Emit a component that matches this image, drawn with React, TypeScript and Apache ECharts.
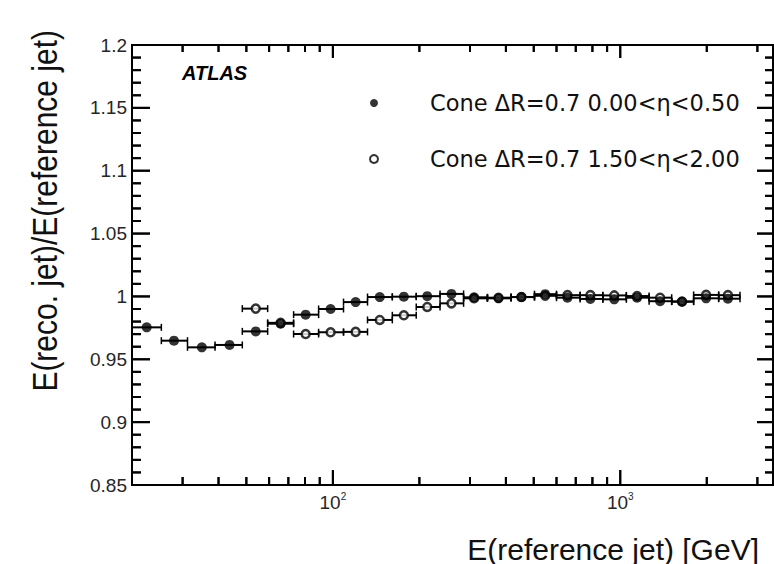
import React, { useEffect, useRef } from "react";
import * as echarts from "echarts";

// ---- data ----
const binCenters = [22.5, 28.0, 35.0, 43.7, 53.9, 65.8, 80.4, 98.2, 120, 145.6, 176.6, 213, 258.6, 310, 377, 453, 548, 655, 787, 953, 1144, 1376, 1640, 1989, 2369];
const binLow = [20, 25.3, 31.2, 38.9, 48.4, 59.3, 73, 89.2, 108.9, 132, 161, 195, 236, 285, 345, 417, 503, 600, 725, 870, 1050, 1260, 1510, 1800, 2200];
const binHigh = [25.3, 31.2, 38.9, 48.4, 59.3, 73, 89.2, 108.9, 132, 161, 195, 236, 285, 345, 417, 503, 600, 725, 870, 1050, 1260, 1510, 1800, 2200, 2610];

const centralValues = [0.9754, 0.9648, 0.9595, 0.9614, 0.9722, 0.9783, 0.9855, 0.99, 0.9955, 0.9995, 0.9998, 1.0002, 1.002, 0.9993, 0.9985, 0.9995, 1.0018, 0.999, 0.998, 0.9977, 0.999, 0.9962, 0.9958, 0.9985, 0.9982];
const forwardValues = [null, null, null, null, 0.9903, 0.979, 0.9701, 0.9715, 0.9718, 0.9813, 0.985, 0.9916, 0.9945, 0.9985, 0.999, 0.9995, 1.0005, 1.001, 1.001, 1.0008, 1.0003, 0.999, 0.996, 1.0012, 1.001];

const centralName = "Cone \u0394R=0.7 0.00<\u03b7<0.50";
const forwardName = "Cone \u0394R=0.7 1.50<\u03b7<2.00";

const xMin = 20;
const xMax = 3400;
const yMin = 0.85;
const yMax = 1.2;
const yInterval = 0.05;

// tick positions
const xMajorTicks = [100, 1000];
const xMinorTicks = [30, 40, 50, 60, 70, 80, 90, 200, 300, 400, 500, 600, 700, 800, 900, 2000, 3000];
const yMajorTicks = [0.85, 0.9, 0.95, 1.0, 1.05, 1.1, 1.15, 1.2];
const yMinorTicks = [
  0.86, 0.87, 0.88, 0.89, 0.91, 0.92, 0.93, 0.94, 0.96, 0.97, 0.98, 0.99,
  1.01, 1.02, 1.03, 1.04, 1.06, 1.07, 1.08, 1.09, 1.11, 1.12, 1.13, 1.14,
  1.16, 1.17, 1.18, 1.19,
];

const xTitle = "E(reference jet) [GeV]";
const yTitle = "E(reco. jet)/E(reference jet)";
const atlasLabel = "ATLAS";

function buildPoints(vals: (number | null)[]) {
  const pts: number[][] = [];
  vals.forEach((v, i) => {
    if (v != null) pts.push([binCenters[i], v]);
  });
  return pts;
}
function buildBars(vals: (number | null)[]) {
  const bars: number[][] = [];
  vals.forEach((v, i) => {
    if (v != null) bars.push([binLow[i], binHigh[i], v]);
  });
  return bars;
}

const errorBarRender = (params: any, api: any) => {
  const lo = api.value(0);
  const hi = api.value(1);
  const v = api.value(2);
  const p1 = api.coord([lo, v]);
  const p2 = api.coord([hi, v]);
  return {
    type: "group",
    children: [
      { type: "line", shape: { x1: p1[0], y1: p1[1], x2: p2[0], y2: p2[1] }, style: { stroke: "#000", lineWidth: 2 } },
      { type: "line", shape: { x1: p1[0], y1: p1[1] - 3.5, x2: p1[0], y2: p1[1] + 3.5 }, style: { stroke: "#000", lineWidth: 1.5 } },
      { type: "line", shape: { x1: p2[0], y1: p2[1] - 3.5, x2: p2[0], y2: p2[1] + 3.5 }, style: { stroke: "#000", lineWidth: 1.5 } },
    ],
  };
};

// per-side tick renderers; data item = [x, y, length]
const makeTickRender = (ux: number, uy: number) => (params: any, api: any) => {
  const p = api.coord([api.value(0), api.value(1)]);
  const len = api.value(2);
  return {
    type: "group",
    children: [
      { type: "line", shape: { x1: p[0], y1: p[1], x2: p[0] + ux * len, y2: p[1] + uy * len }, style: { stroke: "#000", lineWidth: 2 } },
    ],
  };
};

const tickSeries = (ux: number, uy: number, data: number[][]) => ({
  type: "custom",
  renderItem: makeTickRender(ux, uy),
  encode: { x: 0, y: 1 },
  data,
});

const labelFont = "Liberation Sans";

const textGraphics = [
  {
    type: "text",
    x: 45,
    y: 30,
    rotation: Math.PI / 2,
    scaleY: 1.15,
    style: {
      text: yTitle,
      fontFamily: labelFont,
      fontSize: 30,
      fill: "#111",
      align: "right",
      verticalAlign: "middle",
    },
  },
  {
    type: "text",
    x: 759,
    y: 549,
    style: {
      text: xTitle,
      fontFamily: labelFont,
      fontSize: 30,
      fill: "#111",
      align: "right",
      verticalAlign: "middle",
    },
  },
  {
    type: "text",
    x: 182,
    y: 72.5,
    style: {
      text: atlasLabel,
      fontFamily: labelFont,
      fontSize: 20,
      fontWeight: "bold",
      fontStyle: "italic",
      fill: "#000",
      align: "left",
      verticalAlign: "middle",
    },
  },
];

export default function App() {
  const ref = useRef<HTMLDivElement>(null);
  useEffect(() => {
    if (!ref.current) return;
    const chart = echarts.init(ref.current, null, { renderer: "svg" });
    const option: any = {
      animation: false,
      backgroundColor: "#fff",
      grid: {
        left: 132,
        top: 45,
        right: 1,
        bottom: 79,
        show: true,
        borderColor: "#000",
        borderWidth: 2,
        backgroundColor: "transparent",
      },
      legend: {
        data: [
          { name: centralName, icon: "circle" },
          { name: forwardName, icon: "circle" },
        ],
        orient: "vertical",
        left: 364,
        top: 86,
        itemWidth: 8,
        itemHeight: 8,
        itemGap: 32,
        selectedMode: false,
        textStyle: {
          fontFamily: "DejaVu Sans",
          fontSize: 22.5,
          lineHeight: 24,
          color: "#111",
          padding: [0, 0, 0, 47],
        },
      },
      xAxis: {
        type: "log",
        logBase: 10,
        min: xMin,
        max: xMax,
        position: "bottom",
        axisLine: { show: true, lineStyle: { color: "#000", width: 2 } },
        axisTick: { show: false },
        splitLine: { show: false },
        axisLabel: {
          show: true,
          margin: 6,
          showMinLabel: false,
          showMaxLabel: false,
          formatter: (v: number) => {
            const e = Math.log10(v);
            if (Math.abs(e - Math.round(e)) < 1e-6) return `{b|10}{s|${Math.round(e)}}`;
            return "";
          },
          rich: {
            b: { fontFamily: labelFont, fontSize: 19, color: "#262626", lineHeight: 22 },
            s: { fontFamily: labelFont, fontSize: 10, color: "#262626", lineHeight: 10, verticalAlign: "top" },
          },
        },
      },
      yAxis: {
        type: "value",
        min: yMin,
        max: yMax,
        interval: yInterval,
        position: "left",
        axisLine: { show: true, lineStyle: { color: "#000", width: 2 } },
        axisTick: { show: false },
        splitLine: { show: false },
        axisLabel: { fontFamily: labelFont, fontSize: 19, color: "#262626", margin: 5 },
      },
      series: [
        {
          type: "custom",
          name: "forwardBars",
          renderItem: errorBarRender,
          encode: { x: [0, 1], y: 2 },
          data: buildBars(forwardValues),
        },
        {
          type: "custom",
          name: "centralBars",
          renderItem: errorBarRender,
          encode: { x: [0, 1], y: 2 },
          data: buildBars(centralValues),
        },
        tickSeries(0, -1, [...xMajorTicks.map((v) => [v, yMin, 15]), ...xMinorTicks.map((v) => [v, yMin, 8])]),
        tickSeries(0, 1, [...xMajorTicks.map((v) => [v, yMax, 13]), ...xMinorTicks.map((v) => [v, yMax, 7])]),
        tickSeries(1, 0, [...yMajorTicks.map((v) => [xMin, v, 18]), ...yMinorTicks.map((v) => [xMin, v, 9])]),
        tickSeries(-1, 0, [...yMajorTicks.map((v) => [xMax, v, 16]), ...yMinorTicks.map((v) => [xMax, v, 8])]),
        {
          type: "scatter",
          name: forwardName,
          symbol: "circle",
          symbolSize: 8,
          itemStyle: { color: "#fff", borderColor: "#000", borderWidth: 2.5 },
          data: buildPoints(forwardValues),
        },
        {
          type: "scatter",
          name: centralName,
          symbol: "circle",
          symbolSize: 10,
          itemStyle: { color: "#000" },
          data: buildPoints(centralValues),
        },
      ],
      graphic: textGraphics,
    };
    chart.setOption(option);

    // frame tick marks again as graphic lines, placed through the chart's own axis scales
    const px = (x: number, y: number) => chart.convertToPixel({ xAxisIndex: 0, yAxisIndex: 0 }, [x, y]) as number[];
    const tickLine = (x1: number, y1: number, x2: number, y2: number) => ({
      type: "line",
      z: 100,
      silent: true,
      shape: { x1, y1, x2, y2 },
      style: { stroke: "#000", lineWidth: 2 },
    });
    const ticks: any[] = [];
    xMajorTicks.forEach((v) => {
      const b = px(v, yMin);
      const t = px(v, yMax);
      ticks.push(tickLine(b[0], b[1], b[0], b[1] - 15));
      ticks.push(tickLine(t[0], t[1], t[0], t[1] + 13));
    });
    xMinorTicks.forEach((v) => {
      const b = px(v, yMin);
      const t = px(v, yMax);
      ticks.push(tickLine(b[0], b[1], b[0], b[1] - 8));
      ticks.push(tickLine(t[0], t[1], t[0], t[1] + 7));
    });
    yMajorTicks.forEach((v) => {
      const l = px(xMin, v);
      const r = px(xMax, v);
      ticks.push(tickLine(l[0], l[1], l[0] + 18, l[1]));
      ticks.push(tickLine(r[0], r[1], r[0] - 16, r[1]));
    });
    yMinorTicks.forEach((v) => {
      const l = px(xMin, v);
      const r = px(xMax, v);
      ticks.push(tickLine(l[0], l[1], l[0] + 9, l[1]));
      ticks.push(tickLine(r[0], r[1], r[0] - 8, r[1]));
    });
    chart.setOption({ graphic: [...textGraphics, ...ticks] });

    return () => chart.dispose();
  }, []);
  return (
    <div
      ref={ref}
      style={{ position: "absolute", left: 0, top: 0, width: 774, height: 564 }}
    />
  );
}
